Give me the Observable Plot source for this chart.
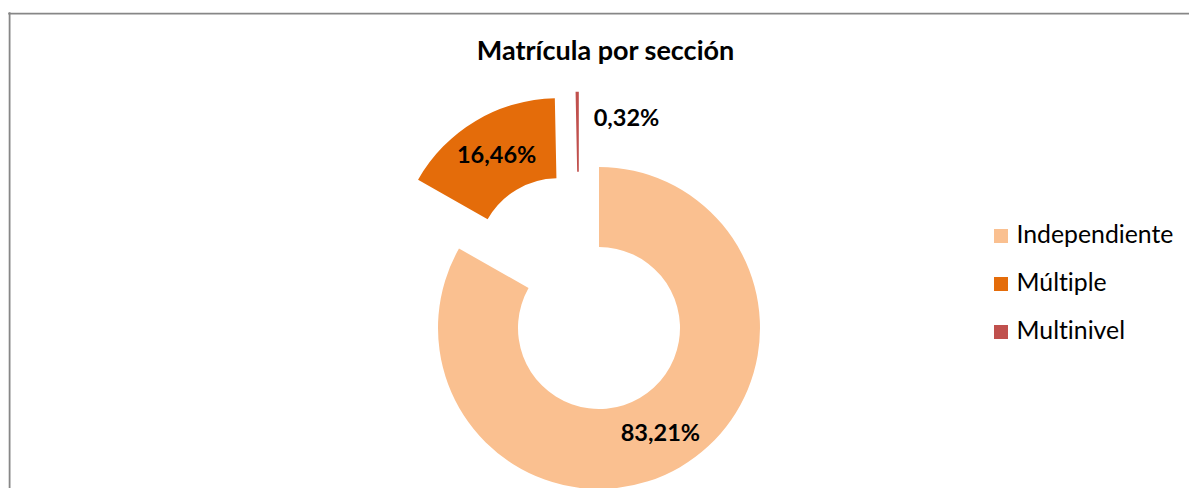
<!DOCTYPE html>
<html><head><meta charset="utf-8">
<script src="https://cdn.jsdelivr.net/npm/d3@7"></script>
<script src="https://cdn.jsdelivr.net/npm/@observablehq/plot@0.6"></script>
<style>
body{margin:0;background:#fff;}
#chart{width:1189px;height:488px;overflow:hidden;}
svg text{font-variant-ligatures:none;font-feature-settings:"liga" 0,"clig" 0;}
</style></head><body><div id="chart"></div>
<script>
// ---- data ----
const title = "Matrícula por sección";
const categories = ["Independiente", "Múltiple", "Multinivel"];
const values = [83.21, 16.46, 0.32];
const valueLabels = ["83,21%", "16,46%", "0,32%"];
const colors = ["#FAC090", "#E46C0A", "#C0504D"];

// ---- layout / style (not data) ----
const W = 1189, H = 488;
const L = {cx: 599, cy: 328, outer: 161, inner: 81};
const explode = {              // explosion distance (px) and optional direction (deg)
  "Independiente": {dist: 0},
  "Múltiple": {dist: 80},
  "Multinivel": {dist: 78, angle: -15}
};
const labelMode = {"Independiente": "inside", "Múltiple": "inside", "Multinivel": "outside"};
const FONT = "Lato, 'Open Sans', sans-serif";

// ---- pie layout from the data ----
const rows = categories.map((c, i) => ({category: c, value: values[i], label: valueLabels[i]}));
const pie = d3.pie().sort(null).value(d => d.value)(rows);
const arc = d3.arc().innerRadius(L.inner).outerRadius(L.outer);
const slices = pie.map(p => {
  const ex = explode[p.data.category];
  const mid = (p.startAngle + p.endAngle) / 2;
  const dir = ex.angle != null ? ex.angle * Math.PI / 180 : mid;
  const ox = L.cx + ex.dist * Math.sin(dir);
  const oy = L.cy - ex.dist * Math.cos(dir);
  let lx, ly;
  const mode = labelMode[p.data.category];
  if (mode === "inside") {
    const [a, b] = arc.centroid(p);
    lx = ox + a; ly = oy + b;
  } else {
    lx = ox + Math.sin(mid) * L.outer + 16;
    ly = oy - Math.cos(mid) * L.outer + 26;
  }
  return {...p.data, p, ox, oy, lx, ly, mode};
});

const legendRows = categories.map((c, i) => ({category: c, i}));
const LG = {x: 994, size: 14, y0: 236, gap: 48, textX: 1016};

function donutMark(index, scales, vals, dimensions, context) {
  const g = d3.create("svg:g");
  for (const s of slices) {
    g.append("path")
      .attr("transform", `translate(${s.ox},${s.oy})`)
      .attr("d", arc(s.p))
      .attr("fill", scales.color(s.category));
  }
  return g.node();
}

const labelStyle = {fill: "#000", fontWeight: "bold", fontSize: 23.5, fontFamily: FONT};

const chart = Plot.plot({
  width: W, height: H, margin: 0,
  x: {type: "identity", axis: null}, y: {type: "identity", axis: null},
  color: {domain: categories, range: colors},
  style: {fontFamily: FONT, background: "#fff"},
  marks: [
    // chart area border (left & top visible)
    Plot.ruleX([9.1], {y1: 12.3, y2: H + 5, stroke: "#878787", strokeWidth: 1.8}),
    Plot.ruleY([13.1], {x1: 8.2, x2: W + 5, stroke: "#878787", strokeWidth: 1.8}),
    donutMark,
    Plot.text(slices.filter(d => d.mode === "inside"), {
      x: "lx", y: "ly", text: "label", textAnchor: "middle", ...labelStyle
    }),
    Plot.text(slices.filter(d => d.mode === "outside"), {
      x: "lx", y: "ly", text: "label", textAnchor: "start", ...labelStyle
    }),
    Plot.text([title], {
      x: () => 605, y: () => 50.5, text: d => d,
      fill: "#000", fontWeight: "bold", fontSize: 27, fontFamily: FONT
    }),
    Plot.rect(legendRows, {
      x1: () => LG.x, x2: () => LG.x + LG.size,
      y1: d => LG.y0 + d.i * LG.gap - LG.size / 2, y2: d => LG.y0 + d.i * LG.gap + LG.size / 2,
      fill: "category"
    }),
    Plot.text(legendRows, {
      x: () => LG.textX, y: d => LG.y0 + d.i * LG.gap - 1, text: "category",
      textAnchor: "start", fill: "#000", fontSize: 24.8, fontFamily: FONT
    })
  ]
});
document.getElementById("chart").append(chart);
</script></body></html>
